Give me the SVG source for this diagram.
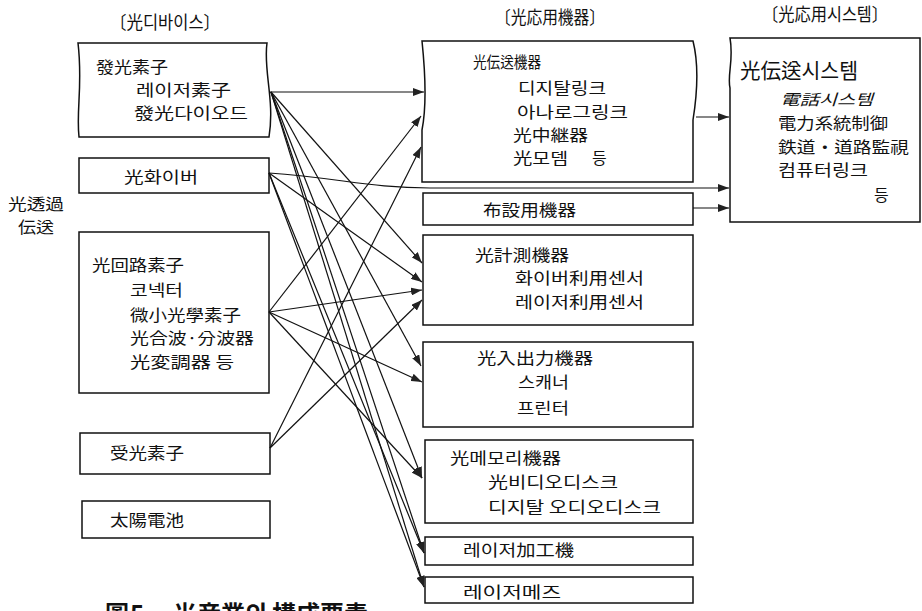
<svg xmlns="http://www.w3.org/2000/svg" width="922" height="611" viewBox="0 0 922 611">
<style>
.bx{fill:none;stroke:#111;stroke-width:1.5}
.t{font-family:"Noto Sans CJK KR","Noto Sans CJK JP",sans-serif;font-size:16px;fill:#111}
.h{font-size:18px}
.s{font-size:15px}
.c{stroke:#111;stroke-width:1.2;fill:none;marker-end:url(#ah)}
</style>
<defs>
<marker id="ah" markerUnits="userSpaceOnUse" markerWidth="12" markerHeight="8" refX="11" refY="4" orient="auto">
<path d="M0,0 L11,4 L0,8 z" fill="#222"/>
</marker>
</defs>
<rect width="922" height="611" fill="#fff"/>

<g id="headers">
<text class="t h" x="110" y="29" textLength="110" lengthAdjust="spacingAndGlyphs">〔光디바이스〕</text>
<text class="t h" x="495" y="24" textLength="110" lengthAdjust="spacingAndGlyphs">〔光応用機器〕</text>
<text class="t h" x="762" y="21" textLength="126" lengthAdjust="spacingAndGlyphs">〔光応用시스템〕</text>
</g>

<g id="side-label">
<text class="t" x="8" y="210" textLength="56" lengthAdjust="spacingAndGlyphs">光透過</text>
<text class="t" x="18" y="233" textLength="36" lengthAdjust="spacingAndGlyphs">伝送</text>
</g>

<g id="n-emit">
<path class="bx" d="M78,43 L267,43 C263,70 275,100 269,137 L79,137 C76,110 83,85 78,43 Z"/>
<text class="t" x="96" y="73" textLength="72" lengthAdjust="spacingAndGlyphs">發光素子</text>
<text class="t" x="136" y="96" textLength="95" lengthAdjust="spacingAndGlyphs">레이저素子</text>
<text class="t" x="134" y="119" textLength="114" lengthAdjust="spacingAndGlyphs">發光다이오드</text>
</g>
<g id="n-fiber">
<rect class="bx" x="79" y="158" width="190" height="35"/>
<text class="t" x="124" y="183" textLength="74" lengthAdjust="spacingAndGlyphs">光화이버</text>
</g>
<g id="n-circuit">
<rect class="bx" x="79" y="232" width="190" height="161"/>
<text class="t" x="92" y="271" textLength="92" lengthAdjust="spacingAndGlyphs">光回路素子</text>
<text class="t" x="130" y="296" textLength="53" lengthAdjust="spacingAndGlyphs">코넥터</text>
<text class="t" x="130" y="321" textLength="111" lengthAdjust="spacingAndGlyphs">微小光學素子</text>
<text class="t" x="130" y="344" textLength="124" lengthAdjust="spacingAndGlyphs">光合波·分波器</text>
<text class="t" x="130" y="368" textLength="104" lengthAdjust="spacingAndGlyphs">光変調器 등</text>
</g>
<g id="n-recv">
<rect class="bx" x="80" y="433" width="190" height="41"/>
<text class="t" x="110" y="459" textLength="74" lengthAdjust="spacingAndGlyphs">受光素子</text>
</g>
<g id="n-solar">
<rect class="bx" x="82" y="501" width="188" height="37"/>
<text class="t" x="110" y="526" textLength="74" lengthAdjust="spacingAndGlyphs">太陽電池</text>
</g>

<g id="n-trans">
<path class="bx" d="M422,41 L693,41 C699,65 697,95 693,120 L693,182 L422,182 L422,130 C427,105 425,70 422,41 Z"/>
<text class="t" x="473" y="68" textLength="68" lengthAdjust="spacingAndGlyphs">光伝送機器</text>
<text class="t" x="518" y="94" textLength="88" lengthAdjust="spacingAndGlyphs">디지탈링크</text>
<text class="t" x="517" y="118" textLength="111" lengthAdjust="spacingAndGlyphs">아나로그링크</text>
<text class="t" x="513" y="141" textLength="75" lengthAdjust="spacingAndGlyphs">光中継器</text>
<text class="t" x="513" y="164" textLength="55" lengthAdjust="spacingAndGlyphs">光모뎀</text>
<text class="t" x="592" y="164">등</text>
</g>
<g id="n-lay">
<rect class="bx" x="423" y="193" width="270" height="32"/>
<text class="t" x="483" y="216" textLength="93" lengthAdjust="spacingAndGlyphs">布設用機器</text>
</g>
<g id="n-meas">
<rect class="bx" x="423" y="235" width="270" height="90"/>
<text class="t" x="475" y="261" textLength="94" lengthAdjust="spacingAndGlyphs">光計測機器</text>
<text class="t" x="515" y="284" textLength="129" lengthAdjust="spacingAndGlyphs">화이버利用센서</text>
<text class="t" x="515" y="308" textLength="129" lengthAdjust="spacingAndGlyphs">레이저利用센서</text>
</g>
<g id="n-io">
<rect class="bx" x="423" y="342" width="270" height="85"/>
<text class="t" x="477" y="364" textLength="116" lengthAdjust="spacingAndGlyphs">光入出力機器</text>
<text class="t" x="518" y="388" textLength="51" lengthAdjust="spacingAndGlyphs">스캐너</text>
<text class="t" x="517" y="414" textLength="52" lengthAdjust="spacingAndGlyphs">프린터</text>
</g>
<g id="n-mem">
<rect class="bx" x="425" y="440" width="268" height="83"/>
<text class="t" x="450" y="464" textLength="111" lengthAdjust="spacingAndGlyphs">光메모리機器</text>
<text class="t" x="488" y="488" textLength="130" lengthAdjust="spacingAndGlyphs">光비디오디스크</text>
<text class="t" x="488" y="513" textLength="173" lengthAdjust="spacingAndGlyphs">디지탈 오디오디스크</text>
</g>
<g id="n-laserproc">
<rect class="bx" x="425" y="537" width="268" height="28"/>
<text class="t" x="463" y="556" textLength="111" lengthAdjust="spacingAndGlyphs">레이저加工機</text>
</g>
<g id="n-lasermes">
<rect class="bx" x="425" y="577" width="268" height="26"/>
<text class="t" x="463" y="598" textLength="98" lengthAdjust="spacingAndGlyphs">레이저메즈</text>
</g>

<g id="n-system">
<path class="bx" d="M730,38 L920,38 L920,222 L730,222 L730,88 C727,75 734,60 730,38 Z"/>
<text class="t" x="740" y="78" style="font-size:21px" textLength="118" lengthAdjust="spacingAndGlyphs">光伝送시스템</text>
<text class="t s" x="780" y="105" textLength="93" lengthAdjust="spacingAndGlyphs" font-style="italic">電話시스템</text>
<text class="t" x="778" y="129" textLength="110" lengthAdjust="spacingAndGlyphs">電力系統制御</text>
<text class="t" x="778" y="153" textLength="131" lengthAdjust="spacingAndGlyphs">鉄道・道路監視</text>
<text class="t" x="778" y="176" textLength="90" lengthAdjust="spacingAndGlyphs">컴퓨터링크</text>
<text class="t" x="874" y="201">등</text>
</g>

<g id="connectors">
<path class="c" d="M270,92 L424,92"/>
<path class="c" d="M271,92 L422,263"/>
<path class="c" d="M271,92 L421,366"/>
<path class="c" d="M271,92 L422,478"/>
<path class="c" d="M271,92 L424,553"/>
<path class="c" d="M271,92 L424,587"/>
<path class="c" d="M269,173 C340,178 370,188 430,188 L729,188"/>
<path class="c" d="M269,173 L422,282"/>
<path class="c" d="M269,173 L424,553"/>
<path class="c" d="M269,173 L424,587"/>
<path class="c" d="M269,312 L421,116"/>
<path class="c" d="M269,312 L422,290"/>
<path class="c" d="M269,312 L422,382"/>
<path class="c" d="M269,312 L422,478"/>
<path class="c" d="M270,448 L421,147"/>
<path class="c" d="M270,448 L422,300"/>
<path class="c" d="M696,117 L729,117"/>
<path class="c" d="M693,208 L729,208"/>
</g>

<g id="caption">
<text class="t" y="623" style="font-size:24px;font-weight:bold"><tspan x="105">圖</tspan><tspan x="130">5.</tspan><tspan x="173">光産業의</tspan><tspan x="272">構成要素</tspan></text>
</g>
</svg>
